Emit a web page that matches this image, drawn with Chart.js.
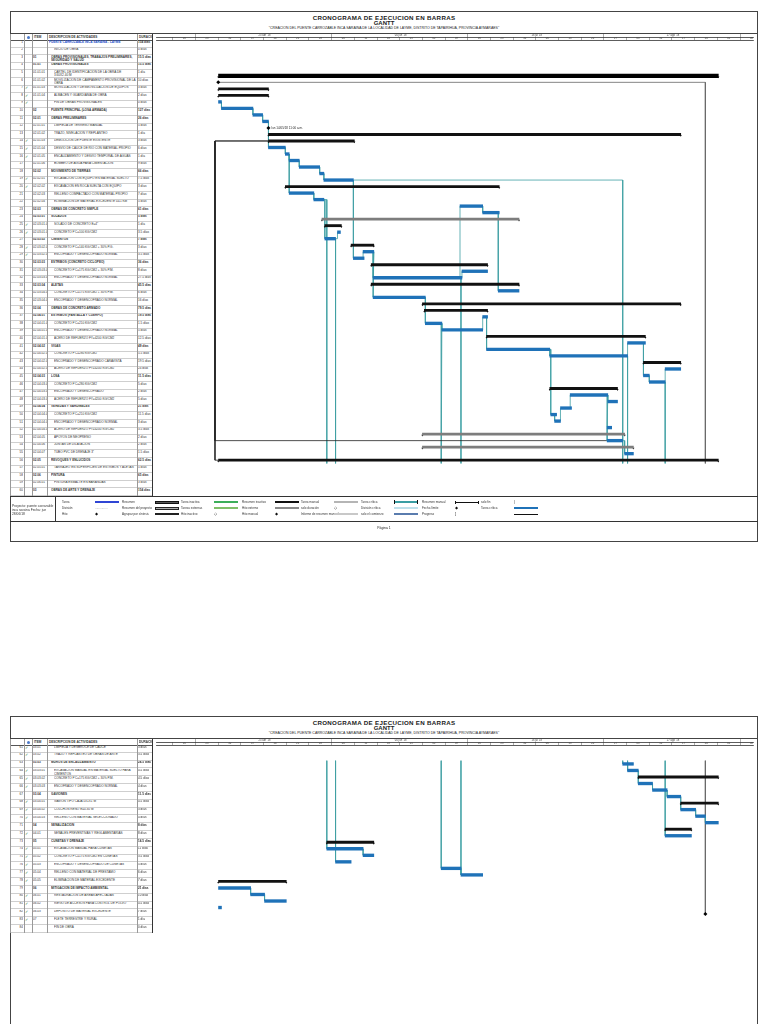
<!DOCTYPE html>
<html lang="es">
<head>
<meta charset="utf-8">
<title>Cronograma de ejecución en barras - Gantt</title>
<script src="https://cdn.jsdelivr.net/npm/chart.js@4.4.1/dist/chart.umd.min.js"></script>
<style>
  html, body { margin: 0; padding: 0; background: #fff; }
  body { position: relative; width: 768px; height: 1024px; overflow: hidden;
         font-family: "Liberation Sans", Arial, sans-serif; color: #222; }
  .abs { position: absolute; box-sizing: border-box; }
  .page { border: 1px solid #444; background: #fff; }
  .ttl { text-align: center; white-space: nowrap; }
  .cell { overflow: hidden; font-size: 3.1px; line-height: 3.5px; color: #333; padding-top: 0.6px; }
  .lg { font-size: 3px; line-height: 4px; white-space: nowrap; color: #333; }
  canvas { position: absolute; }
</style>
</head>
<body>
<script>
// time scale (days from project start, day 0 = lun 30/04/18)
const weekTicks = [-14, -7, 0, 7, 14, 21, 28, 35, 42, 49, 56, 63, 70, 77, 84, 91, 98, 105, 112, 119, 126, 133, 140, 147, 154, 161];
const weekLabels = ['16', '23', '30', '07', '14', '21', '28', '04', '11', '18', '25', '02', '09', '16', '23', '30', '06', '13', '20', '27', '03', '10', '17', '24', '01', '08'];
const monthTicks = [-7, 35, 77, 119, 161];
const monthLabels = ["23 abr '18", "04 jun '18", "16 jul '18", "27 ago '18", "08 oct '18"];

// page 1 tasks (ids 1..60)
const p1Codes = ['', '', '01', '01.01', '01.01.01', '01.01.02', '01.01.03', '01.01.04', '', '02',
  '02.01', '02.01.01', '02.01.02', '02.01.03', '02.01.04', '02.01.05', '02.01.06', '02.02', '02.02.01', '02.02.02',
  '02.02.03', '02.02.04', '02.03', '02.03.01', '02.03.01.01', '02.03.01.02', '02.03.02', '02.03.02.01', '02.03.02.02', '02.03.03',
  '02.03.03.01', '02.03.03.02', '02.03.04', '02.03.04.01', '02.03.04.02', '02.04', '02.04.01', '02.04.01.01', '02.04.01.02', '02.04.01.03',
  '02.04.02', '02.04.02.01', '02.04.02.02', '02.04.02.03', '02.04.03', '02.04.03.01', '02.04.03.02', '02.04.03.03', '02.04.04', '02.04.04.01',
  '02.04.04.02', '02.04.04.03', '02.04.05', '02.04.06', '02.04.07', '02.05', '02.05.01', '02.06', '02.06.01', '03'];
const p1Names = ['PUENTE CARROZABLE INCA SARAINA - LAYME', 'INICIO DE OBRA',
  'OBRAS PROVISIONALES, TRABAJOS PRELIMINARES, SEGURIDAD Y SALUD', 'OBRAS PROVISIONALES',
  'CARTEL DE IDENTIFICACIÓN DE LA OBRA DE 3.60X2.40 M', 'MOVILIZACIÓN DE CAMPAMENTO PROVISIONAL DE LA OBRA',
  'MOVILIZACIÓN Y DESMOVILIZACIÓN DE EQUIPOS', 'ALMACÉN Y GUARDIANÍA DE OBRA', 'FIN DE OBRAS PROVISIONALES',
  'PUENTE PRINCIPAL (LOSA ARMADA)', 'OBRAS PRELIMINARES', 'LIMPIEZA DE TERRENO MANUAL', 'TRAZO, NIVELACIÓN Y REPLANTEO',
  'DEMOLICIÓN DE PUENTE EXISTENTE', 'DESVÍO DE CAUCE DE RÍO CON MATERIAL PROPIO', 'ENCAUZAMIENTO Y DESVÍO TEMPORAL DE AGUAS',
  'BOMBEO DE AGUA PARA CIMENTACIÓN', 'MOVIMIENTO DE TIERRAS', 'EXCAVACIÓN CON EQUIPO EN MATERIAL SUELTO',
  'EXCAVACIÓN EN ROCA SUELTA CON EQUIPO', 'RELLENO COMPACTADO CON MATERIAL PROPIO', 'ELIMINACIÓN DE MATERIAL EXCEDENTE D=1 KM',
  'OBRAS DE CONCRETO SIMPLE', 'SOLADOS', 'SOLADO DE CONCRETO E=4"', "CONCRETO F'C=100 KG/CM2", 'CIMIENTOS',
  "CONCRETO F'C=140 KG/CM2 + 30% P.G.", 'ENCOFRADO Y DESENCOFRADO NORMAL', 'ESTRIBOS (CONCRETO CICLÓPEO)',
  "CONCRETO F'C=175 KG/CM2 + 30% P.M.", 'ENCOFRADO Y DESENCOFRADO NORMAL', 'ALETAS', "CONCRETO F'C=175 KG/CM2 + 30% P.M.",
  'ENCOFRADO Y DESENCOFRADO NORMAL', 'OBRAS DE CONCRETO ARMADO', 'ESTRIBOS (PANTALLA Y CUERPO)', "CONCRETO F'C=210 KG/CM2",
  'ENCOFRADO Y DESENCOFRADO NORMAL', 'ACERO DE REFUERZO FY=4200 KG/CM2', 'VIGAS', "CONCRETO F'C=280 KG/CM2",
  'ENCOFRADO Y DESENCOFRADO CARAVISTA', 'ACERO DE REFUERZO FY=4200 KG/CM2', 'LOSA', "CONCRETO F'C=280 KG/CM2",
  'ENCOFRADO Y DESENCOFRADO', 'ACERO DE REFUERZO FY=4200 KG/CM2', 'VEREDAS Y SARDINELES', "CONCRETO F'C=210 KG/CM2",
  'ENCOFRADO Y DESENCOFRADO NORMAL', 'ACERO DE REFUERZO FY=4200 KG/CM2', 'APOYOS DE NEOPRENO', 'JUNTAS DE DILATACIÓN',
  'TUBO PVC DE DRENAJE 3"', 'REVOQUES Y ENLUCIDOS', 'TARRAJEO EN SUPERFICIES DE ESTRIBOS Y ALETAS', 'PINTURA',
  'PINTURA ESMALTE EN BARANDAS', 'OBRAS DE ARTE Y DRENAJE'];
const p1Dur = ['154 días', '0 días', '15.5 días', '15.5 días', '1 día', '10 días', '3 días', '2 días', '0 días', '127 días',
  '26 días', '5 días', '1 día', '3 días', '6 días', '1 día', '9 días', '66 días', '7.5 días', '3 días',
  '7 días', '5 días', '61 días', '5 días', '1 día', '3.5 días', '7 días', '3 días', '3.5 días', '36 días',
  '8 días', '27.5 días', '45.5 días', '6 días', '16 días', '79.5 días', '19.5 días', '1.5 días', '5 días', '12.5 días',
  '49 días', '5.5 días', '19.5 días', '24 días', '11.5 días', '5 días', '2 días', '5 días', '21 días', '11.5 días',
  '3 días', '3.5 días', '2 días', '2 días', '1.5 días', '62.5 días', '5 días', '65 días', '3 días', '154 días'];
const p1Start = [0, 0, 0, 0, 0, 1, 10.7, 13.7, 15.5, 15.5,
  15.5, 15.5, 20.7, 21.9, 25, 31.3, 32.6, 20.7, 21.9, 29.5,
  74.6, 81.6, 32, 32.9, 36.8, 32.9, 41, 44.7, 41.7, 47.2,
  75.2, 47.8, 47.2, 86.4, 47.8, 63, 63.6, 81.6, 63.9, 69,
  82.8, 126.3, 82.8, 102.3, 131.2, 137.9, 131.2, 133, 102.3, 108.6,
  120.2, 105.6, 102.6, 103.8, 120, 63, 120, 63, 125.4, 0];
const p1End = [154.3, 0, 15.5, 15.5, 1, 10.7, 13.7, 15.5, 15.5, 142.7,
  42, 20.7, 21.9, 25, 31.3, 32.6, 41.7, 86.7, 29.5, 32.6,
  81.6, 86.7, 92.8, 38, 37.7, 36.2, 48, 48, 45, 83.1,
  83.1, 75.2, 92.8, 92.8, 63.9, 142.7, 83.1, 83.1, 69, 81.6,
  131.8, 131.8, 102.3, 126.3, 142.7, 142.7, 133, 137.9, 123.2, 120.2,
  123.2, 109, 104.4, 105.6, 121.4, 125.4, 124.8, 128.1, 128.1, 154.3];
// P project, S summary, G summary (grey), T task, M milestone
const p1Kind = ['P', 'M', 'S', 'S', 'T', 'T', 'T', 'T', 'M', 'S',
  'S', 'T', 'T', 'T', 'T', 'T', 'T', 'S', 'T', 'T',
  'T', 'T', 'G', 'S', 'T', 'T', 'S', 'T', 'T', 'S',
  'T', 'T', 'S', 'T', 'T', 'S', 'S', 'T', 'T', 'T',
  'S', 'T', 'T', 'T', 'S', 'T', 'T', 'T', 'S', 'T',
  'T', 'T', 'T', 'T', 'T', 'G', 'T', 'G', 'T', 'S'];
const p1Done = [7, 8, 9, 14, 15, 16, 19, 20, 25, 26, 28, 29];
const p1Notes = { 9: 'lun 14/05/18 11:00 a.m.' };
const p1Links = [[5, 6], [6, 7], [7, 8], [8, 9], [9, 12], [12, 13], [13, 14], [14, 15], [15, 16], [16, 17],
  [13, 19], [19, 20], [20, 26], [26, 25], [17, 29], [29, 28], [28, 32], [28, 35], [35, 39], [39, 40],
  [32, 21], [32, 31], [40, 38], [21, 22], [38, 43], [22, 34], [43, 44], [43, 53], [53, 54], [54, 52],
  [52, 50], [50, 55], [50, 51], [55, 57], [44, 42], [42, 47], [47, 48], [48, 46], [57, 59]];
const p1StartLinks = [[11, 57], [11, 60]];

// page 2 tasks (ids 61..84)
const p2Codes = ['03.01', '03.02', '03.03', '03.03.01', '03.03.02', '03.03.03', '03.04', '03.04.01', '03.04.02', '03.04.03',
  '04', '04.01', '05', '05.01', '05.02', '05.03', '05.04', '05.05', '06', '06.01', '06.02', '06.03', '07', ''];
const p2Names = ['LIMPIEZA Y DESBROCE DE CAUCE', 'TRAZO Y REPLANTEO DE OBRAS DE ARTE', 'MUROS DE ENCAUZAMIENTO',
  'EXCAVACIÓN MANUAL EN MATERIAL SUELTO PARA CIMIENTOS', "CONCRETO F'C=175 KG/CM2 + 30% P.M.", 'ENCOFRADO Y DESENCOFRADO NORMAL',
  'GAVIONES', 'GAVIÓN TIPO CAJA 5X1X1 M', 'COLCHÓN RENO E=0.30 M', 'RELLENO CON MATERIAL SELECCIONADO',
  'SEÑALIZACIÓN', 'SEÑALES PREVENTIVAS Y REGLAMENTARIAS', 'CUNETAS Y DRENAJE', 'EXCAVACIÓN MANUAL PARA CUNETAS',
  "CONCRETO F'C=175 KG/CM2 EN CUNETAS", 'ENCOFRADO Y DESENCOFRADO DE CUNETAS', 'RELLENO CON MATERIAL DE PRÉSTAMO',
  'ELIMINACIÓN DE MATERIAL EXCEDENTE', 'MITIGACIÓN DE IMPACTO AMBIENTAL', 'RESTAURACIÓN DE ÁREAS AFECTADAS',
  'RIEGO DE ACCESOS PARA CONTROL DE POLVO', 'DEPÓSITO DE MATERIAL EXCEDENTE', 'FLETE TERRESTRE Y RURAL', 'FIN DE OBRA'];
const p2Dur = ['3 días', '3.5 días', '24.5 días', '4.5 días', '4.5 días', '4 días', '11.5 días', '4.5 días', '3 días', '4 días',
  '8 días', '8 días', '14.5 días', '11 días', '3.5 días', '5 días', '6 días', '7 días', '21 días', '10 días',
  '4.5 días', '7 días', '1 día', '0 días'];
const p2Start = [124.8, 126.3, 129.6, 129.6, 134, 138.5, 142.7, 142.7, 147.3, 150.3,
  137.9, 137.9, 33.5, 33.5, 44.7, 36.2, 68.8, 74.9, 0, 0,
  10, 14.3, 0, 150.3];
const p2End = [128.1, 129.6, 154.3, 134, 138.5, 142.7, 154.3, 147.3, 150.3, 154.3,
  146, 146, 48, 44.7, 48, 41, 74.9, 81.6, 21, 10,
  14.3, 21, 1, 150.3];
const p2Kind = ['T', 'T', 'S', 'T', 'T', 'T', 'S', 'T', 'T', 'T',
  'S', 'T', 'S', 'T', 'T', 'T', 'T', 'T', 'S', 'T',
  'T', 'T', 'T', 'M'];
const p2Done = [61, 62, 64, 65, 66, 68, 69, 70, 72, 74, 75, 76, 77, 78, 80, 81, 82, 83];
const p2Links = [[61, 62], [62, 64], [64, 65], [65, 66], [66, 68], [68, 69], [69, 70], [74, 75], [77, 78], [80, 81], [81, 82]];

// links that run from page 1 onto page 2 ('g' = grey link)
const crossLinks = [[17, 61], [44, 62], [20, 74], [26, 76], [39, 77], [32, 78], [48, 72], [2, 84, 'g']];

const legendNames = ['Tarea', 'Resumen', 'Tarea inactiva', 'Resumen inactivo', 'Tarea manual', 'Tarea crítica', 'Resumen manual', 'solo fin',
  'División', 'Resumen del proyecto', 'Tareas externas', 'Hito externo', 'solo duración', 'División crítica', 'Fecha límite', 'Tarea crítica',
  'Hito', 'Agrupar por síntesis', 'Hito inactivo', 'Hito manual', 'Informe de resumen manual', 'solo el comienzo', 'Progreso', ''];
const legendMarks = ['bar:#2f45d4', 'sum', 'bar:#3cae5a', 'bar:#111', 'bar:#b5b5b5', 'cap:#3a9ea3', 'thin', 'txt:|',
  'dots', 'out', 'bar:#7fbf6a', 'bar:#8a8a8a', 'txt:◇', 'bar:#bfe0ea', 'txt:◆', 'bar:#1f72b8',
  'txt:◆', 'bar:#222', 'txt:◇', 'txt:◆', 'bar:#c8c8c8', 'bar:#5a7cae', 'txt:]', 'line'];

const TITLE = 'CRONOGRAMA DE EJECUCION EN BARRAS';
const SUBTITLE = '"CREACION DEL PUENTE CARROZABLE INCA SARAINA DE LA LOCALIDAD DE LAYME, DISTRITO DE TAPAIRIHUA, PROVINCIA AYMARAES"';

const GX = 152, GW = 605;            // gantt area on the sheet
const X_MIN = -19.2, X_MAX = 165;    // days shown across it
const TEAL = '#3f9fa3';
const allStart = p1Start.concat(p2Start);
const allEnd = p1End.concat(p2End);

function el(x, y, w, h, cls, css, text) {
  const d = document.createElement('div');
  d.className = 'abs ' + (cls || '');
  Object.assign(d.style, { left: x + 'px', top: y + 'px', width: w + 'px', height: h + 'px' }, css || {});
  if (text != null) d.textContent = text;
  document.body.appendChild(d);
  return d;
}

function titleBlock(top) {
  el(10, top, 748, 23, '', { borderBottom: '1px solid #444' });
  el(0, top + 2.5, 768, 7, 'ttl', { fontSize: '6.2px', fontWeight: 'bold', lineHeight: '7px', letterSpacing: '0.3px' }, TITLE);
  el(0, top + 8.5, 768, 7, 'ttl', { fontSize: '6px', fontWeight: 'bold', lineHeight: '7px' }, 'GANTT');
  el(0, top + 15, 768, 5, 'ttl', { fontSize: '3.5px', lineHeight: '4px' }, SUBTITLE);
}

const notesPlugin = {
  id: 'notes',
  afterDatasetsDraw(chart, args, opts) {
    const { ctx, scales } = chart;
    ctx.save();
    ctx.font = '3px "Liberation Sans"';
    ctx.fillStyle = '#222';
    ctx.textBaseline = 'middle';
    (opts.items || []).forEach(it => {
      ctx.fillText(it.text, scales.x.getPixelForValue(it.x) + 3, scales.y.getPixelForValue(it.y));
    });
    ctx.restore();
  }
};

function timeAxis(ticksArr, labels, cellDays, weight) {
  const pxDay = GW / (X_MAX - X_MIN);
  return {
    type: 'linear', position: 'top', min: X_MIN, max: X_MAX, weight: weight,
    afterBuildTicks: s => { s.ticks = ticksArr.map(value => ({ value })); },
    afterFit: s => { s.height = 3; },
    ticks: { autoSkip: false, maxRotation: 0, padding: -3, labelOffset: cellDays * pxDay / 2,
             font: { size: 2.7, family: 'Liberation Sans' }, color: '#444',
             callback: (v, i) => labels[i] },
    grid: { drawOnChartArea: false, tickLength: 3, color: '#777', lineWidth: 0.6 },
    border: { display: true, color: '#333', width: 0.8 }
  };
}

function drawGantt(page, canvasTop, canvasH, crossMode) {
  const cv = document.createElement('canvas');
  cv.width = GW; cv.height = canvasH;
  cv.style.left = GX + 'px'; cv.style.top = canvasTop + 'px';
  document.body.appendChild(cv);

  const n = page.codes.length;
  const r = id => id - page.firstId;
  const S = id => allStart[id - 1], E = id => allEnd[id - 1];
  const rows = k => page.kinds.map((kk, i) => kk === k ? i : -1).filter(i => i >= 0);
  const barSet = (k, color, t) => ({
    type: 'bar', grouped: false, barThickness: t, backgroundColor: color, borderWidth: 0,
    data: rows(k).map(i => ({ x: [page.starts[i], page.ends[i]], y: i }))
  });

  const datasets = [barSet('P', '#000', 3.6), barSet('S', '#111', 2.2), barSet('G', '#7d7d7d', 2.2), barSet('T', '#1f72b8', 2.7)];
  const caps = rows('P').concat(rows('S'), rows('G'));
  datasets.push({
    type: 'line', showLine: false, pointStyle: 'triangle', rotation: 180, pointRadius: 1.2,
    pointBackgroundColor: '#111', pointBorderWidth: 0,
    data: caps.flatMap(i => [{ x: page.starts[i], y: i + 0.18 }, { x: page.ends[i], y: i + 0.18 }])
  });
  datasets.push({
    type: 'line', showLine: false, pointStyle: 'rectRot', pointRadius: 2, pointBackgroundColor: '#000', pointBorderWidth: 0,
    data: rows('M').map(i => ({ x: page.starts[i], y: i }))
  });

  const link = (pts, color) => datasets.push({
    type: 'line', data: pts, borderColor: color, borderWidth: 0.8, pointRadius: 0, tension: 0, fill: false
  });
  page.links.forEach(([a, b]) => link([{ x: E(a), y: r(a) }, { x: S(b), y: r(a) }, { x: S(b), y: r(b) }], TEAL));
  const left = Math.min(...page.starts) - 1;
  (page.ss || []).forEach(([a, b]) => link([{ x: S(a), y: r(a) }, { x: left, y: r(a) }, { x: left, y: r(b) }, { x: S(b), y: r(b) }], '#222'));
  crossLinks.forEach(([a, b, c]) => {
    const col = c === 'g' ? '#666' : TEAL;
    if (crossMode === 'out') link([{ x: E(a), y: r(a) }, { x: S(b), y: r(a) }, { x: S(b), y: n - 0.5 }], col);
    else link([{ x: S(b), y: -0.5 }, { x: S(b), y: r(b) }], col);
  });

  const notes = Object.entries(page.notes || {}).map(([id, text]) => ({ x: S(+id), y: r(+id), text }));

  return new Chart(cv, {
    type: 'bar',
    data: { datasets },
    options: {
      indexAxis: 'y', responsive: false, animation: false, events: [],
      layout: { padding: 0 },
      plugins: { legend: { display: false }, tooltip: { enabled: false }, notes: { items: notes } },
      scales: {
        x: timeAxis(weekTicks, weekLabels, 7, 0),
        x2: timeAxis(monthTicks, monthLabels, 42, 1),
        y: { type: 'linear', reverse: true, min: -0.5, max: n - 0.5, display: false }
      }
    },
    plugins: [notesPlugin]
  });
}

function drawTable(page, chart, canvasTop) {
  const cols = [10, 24, 32, 47, 137, 152];
  const n = page.codes.length;
  const area = chart.chartArea;
  const y0 = canvasTop + area.top, y1 = canvasTop + area.bottom;
  const rh = (y1 - y0) / n;
  const heads = ['', '', 'ITEM', 'DESCRIPCIÓN DE ACTIVIDADES', 'DURACIÓN'];
  heads.forEach((h, c) => el(cols[c] + 1, canvasTop + 1, cols[c + 1] - cols[c] - 1, y0 - canvasTop - 1, 'cell',
    { fontWeight: 'bold', paddingLeft: '1px' }, h));
  el(26.5, canvasTop + 1.6, 3.4, 3.4, '', { borderRadius: '50%', background: '#4a78c9' });
  el(10, y0, 142, 0, '', { borderTop: '1px solid #555' });

  for (let i = 0; i < n; i++) {
    const y = y0 + i * rh, id = page.firstId + i, k = page.kinds[i];
    const bold = 'PSG'.includes(k) ? 'bold' : 'normal';
    el(10, y, 142, rh, '', { borderBottom: '1px solid #cfcfcf' });
    el(cols[0], y, 13, rh, 'cell', { textAlign: 'right' }, String(id));
    if (page.done.includes(id)) el(cols[1] + 1, y, 7, rh, 'cell', { fontSize: '4px', color: '#2a7a3a' }, '✓');
    el(cols[2] + 1, y, 14, rh, 'cell', { fontWeight: bold }, page.codes[i]);
    const indent = k === 'T' || k === 'M' ? 7 : (k === 'P' ? 2 : 4);
    el(cols[3] + indent, y, cols[4] - cols[3] - indent - 1, rh, 'cell',
      { fontWeight: bold, color: k === 'P' ? '#2450c8' : '#333' }, page.names[i]);
    el(cols[4] + 1, y, 14, rh, 'cell', { fontWeight: bold }, page.durs[i]);
  }
  cols.forEach((x, c) => el(x, canvasTop, 0, y1 - canvasTop, '', { borderLeft: (c === 5 ? '1px solid #333' : '1px solid #999') }));
  return y1;
}

function swatch(x, y, mark) {
  const [kind, arg] = mark.split(':');
  if (kind === 'bar') el(x, y - 1.3, 24, 2.6, '', { background: arg });
  else if (kind === 'cap') { el(x, y - 1.3, 24, 2.6, '', { background: arg }); el(x, y - 2, 1.2, 4, '', { background: '#111' }); el(x + 23, y - 2, 1.2, 4, '', { background: '#111' }); }
  else if (kind === 'sum') el(x, y - 1.5, 24, 3, '', { border: '1px solid #111', background: '#555' });
  else if (kind === 'out') el(x, y - 1.5, 24, 3, '', { border: '1px solid #222', background: '#aaa' });
  else if (kind === 'thin') { el(x, y - 0.5, 24, 1, '', { background: '#111' }); el(x, y - 1.5, 1, 3, '', { background: '#111' }); el(x + 23, y - 1.5, 1, 3, '', { background: '#111' }); }
  else if (kind === 'line') el(x, y - 0.5, 24, 1, '', { background: '#111' });
  else if (kind === 'dots') el(x, y - 2, 24, 4, 'lg', { color: '#777' }, '...............');
  else if (kind === 'txt') el(x, y - 2, 10, 4, 'lg', { fontSize: '3.6px', color: '#111' }, arg);
}

// ---------- page 1 ----------
const page1 = { firstId: 1, codes: p1Codes, names: p1Names, durs: p1Dur, starts: p1Start, ends: p1End,
  kinds: p1Kind, done: p1Done, notes: p1Notes, links: p1Links, ss: p1StartLinks };
el(10, 11, 748, 531, 'page');
titleBlock(11);
const chart1 = drawGantt(page1, 34, 466, 'out');
const end1 = drawTable(page1, chart1, 34);
el(10, end1, 748, 0, '', { borderTop: '1px solid #333' });

// legend block
el(10, end1 + 25, 748, 0, '', { borderTop: '1px solid #333' });
el(55, end1, 0, 25, '', { borderLeft: '1px solid #333' });
el(12, end1 + 8, 43, 9, 'lg', { fontSize: '3.3px', lineHeight: '4px', whiteSpace: 'normal' }, 'Proyecto: puente carrozable inca saraina Fecha: jue 28/06/18');
const lgLabelX = [62, 122, 181, 242, 301, 361, 422, 481];
legendNames.forEach((name, i) => {
  const c = i % 8, rr = Math.floor(i / 8);
  const y = end1 + 6 + rr * 6;
  el(lgLabelX[c], y - 2, 32, 4, 'lg', {}, name);
  swatch(lgLabelX[c] + 33, y, legendMarks[i]);
});
el(0, end1 + 30, 768, 5, 'ttl', { fontSize: '3.4px', lineHeight: '5px' }, 'Página 1');

// ---------- page 2 ----------
const page2 = { firstId: 61, codes: p2Codes, names: p2Names, durs: p2Dur, starts: p2Start, ends: p2End,
  kinds: p2Kind, done: p2Done, notes: {}, links: p2Links, ss: [] };
el(10, 716, 748, 340, 'page');
titleBlock(716);
const chart2 = drawGantt(page2, 739, 198, 'in');
drawTable(page2, chart2, 739);
</script>
</body>
</html>
